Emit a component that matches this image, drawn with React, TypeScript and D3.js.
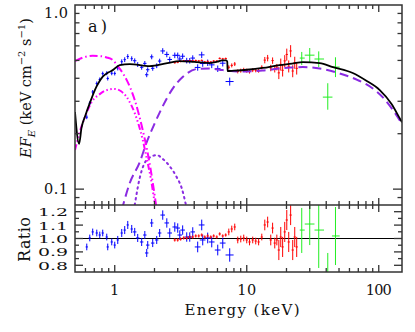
import React from "react";
import * as d3 from "d3";

// model components, E in keV, EF_E in keV cm^-2 s^-1
const totalE = [0.5, 0.537, 0.56, 0.6, 0.647, 0.727, 0.811, 0.9, 0.966, 1.09, 1.3, 1.84, 2.5, 3.11, 4.0, 5.24, 6.0, 6.5, 7.0, 7.12, 7.16, 8.0, 10, 13.2, 17.8, 22, 26.6, 35.7, 45, 63.5, 80, 101.8, 125, 144, 150];
const totalF = [0.262, 0.176, 0.215, 0.252, 0.293, 0.36, 0.408, 0.431, 0.443, 0.472, 0.478, 0.466, 0.484, 0.496, 0.491, 0.484, 0.492, 0.5, 0.5, 0.492, 0.438, 0.44, 0.445, 0.455, 0.472, 0.48, 0.49, 0.484, 0.46, 0.427, 0.389, 0.345, 0.29, 0.243, 0.231];

const soft1E = [0.5, 0.593, 0.681, 0.77, 0.87, 0.966, 1.054, 1.15, 1.233, 1.322, 1.417, 1.52, 1.63, 1.747, 1.874, 2.01, 2.08];
const soft1F = [0.496, 0.522, 0.53, 0.528, 0.519, 0.502, 0.466, 0.427, 0.391, 0.35, 0.305, 0.256, 0.209, 0.167, 0.127, 0.0916, 0.0769];

const soft2E = [0.5, 0.543, 0.603, 0.669, 0.77, 0.87, 1.0, 1.11, 1.233, 1.322, 1.417, 1.52, 1.63, 1.747, 1.874, 2.01, 2.08];
const soft2F = [0.163, 0.204, 0.252, 0.297, 0.328, 0.345, 0.35, 0.341, 0.316, 0.29, 0.259, 0.223, 0.185, 0.147, 0.115, 0.0839, 0.0723];

const plE = [1.13, 1.3, 1.546, 1.747, 2.01, 2.27, 2.7, 3.27, 4.17, 5.24, 6.58, 8.85, 13.2, 17.8, 21.2, 26.6, 35.7, 50.5, 69.3, 90.1, 107, 144, 150];
const plF = [0.0769, 0.108, 0.14, 0.18, 0.228, 0.275, 0.345, 0.406, 0.449, 0.452, 0.443, 0.435, 0.441, 0.452, 0.457, 0.46, 0.452, 0.425, 0.391, 0.352, 0.316, 0.237, 0.226];

const bumpE = [1.417, 1.546, 1.778, 2.08, 2.31, 2.61, 2.95, 3.22, 3.45];
const bumpF = [0.082, 0.115, 0.146, 0.153, 0.146, 0.133, 0.116, 0.101, 0.083];

// blue data
const blueE = [0.614, 0.647, 0.681, 0.731, 0.77, 0.811, 0.87, 0.885, 0.949, 1.0, 1.054, 1.13, 1.19, 1.255, 1.345, 1.417, 1.493, 1.6, 1.69, 1.747, 1.778, 1.906, 1.94, 2.08, 2.19, 2.31, 2.48, 2.61, 2.85, 3.0, 3.11, 3.27, 3.51, 3.7, 3.9, 4.25, 4.56, 4.64, 5.06, 5.43, 6.03, 6.58, 7.43];
const blueF = [0.246, 0.293, 0.337, 0.375, 0.394, 0.424, 0.426, 0.399, 0.426, 0.425, 0.455, 0.492, 0.505, 0.525, 0.511, 0.498, 0.475, 0.459, 0.482, 0.418, 0.445, 0.523, 0.453, 0.468, 0.496, 0.563, 0.539, 0.506, 0.533, 0.533, 0.509, 0.527, 0.499, 0.498, 0.515, 0.458, 0.536, 0.481, 0.486, 0.473, 0.451, 0.483, 0.384];
const blueRatio = [0.937, 1.004, 1.049, 1.041, 1.026, 1.041, 1.011, 0.937, 0.974, 0.951, 0.989, 1.041, 1.063, 1.101, 1.071, 1.049, 1.004, 0.974, 1.026, 0.892, 0.951, 1.116, 0.966, 0.989, 1.041, 1.175, 1.116, 1.041, 1.086, 1.078, 1.026, 1.063, 1.011, 1.011, 1.049, 0.937, 1.101, 0.989, 1.004, 0.974, 0.914, 0.966, 0.877];
const blueErr = [0.025, 0.025, 0.025, 0.025, 0.025, 0.025, 0.025, 0.025, 0.025, 0.025, 0.03, 0.03, 0.03, 0.03, 0.03, 0.03, 0.03, 0.03, 0.03, 0.03, 0.03, 0.03, 0.03, 0.03, 0.03, 0.035, 0.035, 0.035, 0.035, 0.035, 0.035, 0.035, 0.035, 0.035, 0.035, 0.04, 0.04, 0.04, 0.04, 0.04, 0.04, 0.04, 0.05];
const blueBin = [0.02, 0.02, 0.02, 0.02, 0.02, 0.02, 0.02, 0.02, 0.02, 0.02, 0.02, 0.02, 0.02, 0.02, 0.02, 0.03, 0.03, 0.03, 0.03, 0.03, 0.03, 0.03, 0.03, 0.03, 0.03, 0.04, 0.04, 0.04, 0.04, 0.04, 0.04, 0.04, 0.04, 0.04, 0.04, 0.05, 0.05, 0.05, 0.05, 0.05, 0.05, 0.05, 0.07];

// red data
const redE = [2.85, 3.0, 3.16, 3.33, 3.51, 3.7, 3.9, 4.11, 4.33, 4.56, 4.81, 5.06, 5.34, 5.62, 5.93, 6.24, 6.58, 6.93, 7.31, 7.7, 8.11, 8.55, 9.01, 9.49, 10.0, 10.5, 11.1, 11.7, 12.3, 13.0, 13.7, 14.4, 15.2, 15.7, 16.3, 16.9, 17.5, 18.1, 18.7, 19.4, 20.1, 20.8, 21.5, 22.3, 23.1, 23.9];
const redF = [0.486, 0.489, 0.494, 0.497, 0.495, 0.498, 0.497, 0.499, 0.497, 0.5, 0.491, 0.494, 0.49, 0.496, 0.496, 0.513, 0.51, 0.512, 0.459, 0.47, 0.478, 0.436, 0.44, 0.445, 0.44, 0.435, 0.443, 0.442, 0.44, 0.459, 0.502, 0.515, 0.455, 0.499, 0.448, 0.46, 0.428, 0.476, 0.442, 0.497, 0.539, 0.465, 0.563, 0.438, 0.487, 0.453];
const redRatio = [0.989, 0.989, 0.996, 1.004, 1.004, 1.011, 1.011, 1.019, 1.019, 1.026, 1.011, 1.019, 1.011, 1.019, 1.011, 1.034, 1.019, 1.026, 1.049, 1.071, 1.086, 0.989, 0.996, 1.004, 0.989, 0.974, 0.989, 0.981, 0.974, 1.011, 1.101, 1.123, 0.989, 1.078, 0.966, 0.989, 0.914, 1.011, 0.937, 1.049, 1.138, 0.974, 1.175, 0.914, 1.011, 0.937];
const redErr = [0.012, 0.012, 0.012, 0.012, 0.012, 0.012, 0.012, 0.012, 0.012, 0.012, 0.012, 0.012, 0.012, 0.012, 0.012, 0.012, 0.012, 0.012, 0.025, 0.025, 0.025, 0.025, 0.025, 0.025, 0.025, 0.025, 0.025, 0.025, 0.025, 0.025, 0.04, 0.04, 0.04, 0.04, 0.04, 0.04, 0.075, 0.075, 0.075, 0.075, 0.075, 0.075, 0.075, 0.075, 0.075, 0.075];
const redBin = 0.02;

// green data
const greenE = [26.1, 30.0, 35.1, 41.1, 47.0];
const greenELo = [25.2, 27.5, 32.6, 37.7, 44.2];
const greenEHi = [27.5, 32.6, 38.5, 44.6, 50.6];
const greenF = [0.515, 0.534, 0.509, 0.316, 0.46];
const greenFLo = [0.472, 0.49, 0.46, 0.27, 0.406];
const greenFHi = [0.556, 0.584, 0.56, 0.376, 0.52];
const greenRatio = [1.063, 1.108, 1.063, 0.72, 1.019];
const greenRatioLo = [0.892, 0.951, 0.78, 0.55, 0.802];
const greenRatioHi = [1.228, 1.25, 1.25, 0.892, 1.235];

const xLabels = [1, 10, 100];
const fLabels = [0.1, 1.0];
const ratioLabels = [0.8, 0.9, 1.0, 1.1, 1.2];

const BLUE = "#0000ff";
const RED = "#ff0000";
const GREEN = "#22ee22";
const MAGENTA = "#ff00ff";
const PURPLE = "#8a2be2";
const INK = "#333";
const FONT = "DejaVu Serif";

export default function App() {
  const L = 75, R = 402, T = 5, M = 205, B = 272;
  const x = d3.scaleLog().domain([0.5, 150]).range([L, R]);
  const yF = d3.scaleLog().domain([0.082, 1]).range([M, T]);
  const yR = d3.scaleLinear().domain([0.75, 1.25]).range([B, M]);

  const curve = (E: number[], F: number[]) =>
    d3
      .line<number>()
      .x((i) => x(E[i]))
      .y((i) => yF(F[i]))
      .curve(d3.curveMonotoneX)(d3.range(E.length)) || "";

  const isMajor = (v: number) => Math.abs(Math.log10(v) - Math.round(Math.log10(v))) < 1e-6;
  const xTicks = x.ticks().filter((v) => v > 0.501 && v < 149);
  const fTicks = yF.ticks().filter((v) => v > 0.083 && v < 0.999);
  const rTicks = d3.range(16, 25).map((k) => k * 0.05);

  const cross = (key: string, xa: number, xb: number, xc: number, yc: number, ya: number, yb: number, color: string) => (
    <g key={key} stroke={color} strokeWidth={1}>
      <line x1={xa} x2={xb} y1={yc} y2={yc} />
      <line x1={xc} x2={xc} y1={ya} y2={yb} />
    </g>
  );

  const topData: React.ReactNode[] = [];
  const ratData: React.ReactNode[] = [];
  blueE.forEach((e, i) => {
    const xa = x(e * (1 - blueBin[i])), xb = x(e * (1 + blueBin[i])), xc = x(e);
    topData.push(cross("bt" + i, xa, xb, xc, yF(blueF[i]), yF(blueF[i] * (1 - blueErr[i])), yF(blueF[i] * (1 + blueErr[i])), BLUE));
    ratData.push(cross("br" + i, xa, xb, xc, yR(blueRatio[i]), yR(blueRatio[i] - blueErr[i]), yR(blueRatio[i] + blueErr[i]), BLUE));
  });
  redE.forEach((e, i) => {
    const xa = x(e * (1 - redBin)), xb = x(e * (1 + redBin)), xc = x(e);
    topData.push(cross("rt" + i, xa, xb, xc, yF(redF[i]), yF(redF[i] * (1 - redErr[i])), yF(redF[i] * (1 + redErr[i])), RED));
    ratData.push(cross("rr" + i, xa, xb, xc, yR(redRatio[i]), yR(redRatio[i] - redErr[i]), yR(redRatio[i] + redErr[i]), RED));
  });
  greenE.forEach((e, i) => {
    const xa = x(greenELo[i]), xb = x(greenEHi[i]), xc = x(e);
    topData.push(cross("gt" + i, xa, xb, xc, yF(greenF[i]), yF(greenFLo[i]), yF(greenFHi[i]), GREEN));
    ratData.push(cross("gr" + i, xa, xb, xc, yR(greenRatio[i]), yR(greenRatioLo[i]), yR(greenRatioHi[i]), GREEN));
  });

  return (
    <svg width={415} height={332} style={{ position: "absolute", left: 0, top: 0, background: "#fff" }} fontFamily={FONT}>
      <defs>
        <clipPath id="clipTop">
          <rect x={L} y={T} width={R - L} height={M - T} />
        </clipPath>
        <clipPath id="clipRat">
          <rect x={L} y={M} width={R - L} height={B - M} />
        </clipPath>
      </defs>

      {/* top panel */}
      <g clipPath="url(#clipTop)" fill="none">
        {topData}
        <path d={curve(bumpE, bumpF)} stroke={PURPLE} strokeWidth={2} strokeDasharray="1.5,4" strokeLinecap="round" />
        <path d={curve(plE, plF)} stroke={PURPLE} strokeWidth={2} strokeDasharray="9,5" />
        <path d={curve(soft2E, soft2F)} stroke={MAGENTA} strokeWidth={2} strokeDasharray="6,2.5,1.5,2.5,1.5,2.5,1.5,2.5" />
        <path d={curve(soft1E, soft1F)} stroke={MAGENTA} strokeWidth={2} strokeDasharray="8,3,1.5,3" />
        <path d={curve(totalE, totalF)} stroke="#000" strokeWidth={1.8} />
      </g>

      {/* ratio panel */}
      <g clipPath="url(#clipRat)">
        <line x1={L} x2={R} y1={yR(1)} y2={yR(1)} stroke="#000" strokeWidth={1} />
        {ratData}
      </g>

      {/* frames */}
      <g fill="none" stroke={INK} strokeWidth={1.5}>
        <rect x={L} y={T} width={R - L} height={B - T} />
        <line x1={L} x2={R} y1={M} y2={M} />
      </g>

      {/* ticks */}
      <g stroke={INK} strokeWidth={1.3}>
        {xTicks.map((v) => {
          const len = isMajor(v) ? 7 : 4;
          const px = x(v);
          return (
            <g key={"xt" + v}>
              <line x1={px} x2={px} y1={T} y2={T + len} />
              <line x1={px} x2={px} y1={M - len} y2={M + len} />
              <line x1={px} x2={px} y1={B} y2={B - len} />
            </g>
          );
        })}
        {fTicks.map((v) => {
          const len = isMajor(v) ? 9 : 4.5;
          const py = yF(v);
          return (
            <g key={"ft" + v}>
              <line x1={L} x2={L + len} y1={py} y2={py} />
              <line x1={R} x2={R - len} y1={py} y2={py} />
            </g>
          );
        })}
        {rTicks.map((v, i) => {
          const len = i % 2 === 0 ? 8 : 4;
          const py = yR(v);
          return (
            <g key={"rt" + i}>
              <line x1={L} x2={L + len} y1={py} y2={py} />
              <line x1={R} x2={R - len} y1={py} y2={py} />
            </g>
          );
        })}
      </g>

      {/* tick labels */}
      <g fill="#111" fontSize={14.5}>
        {xLabels.map((v) => (
          <text key={"xl" + v} x={x(v)} y={295} textAnchor="middle" textLength={v === 1 ? 8 : v === 10 ? 19 : 26} lengthAdjust="spacing">
            {String(v)}
          </text>
        ))}
        {fLabels.map((v) => (
          <text key={"fl" + v} x={68} y={Math.max(yF(v), 12.5) + 5} textAnchor="end" textLength={24} lengthAdjust="spacing">
            {v.toFixed(1)}
          </text>
        ))}
      </g>
      <g fill="#111" fontSize={11.5}>
        {ratioLabels.map((v) => (
          <text key={"rl" + v} x={68} y={yR(v) + 4.5} textAnchor="end" textLength={30} lengthAdjust="spacingAndGlyphs">
            {v.toFixed(1)}
          </text>
        ))}
      </g>

      {/* axis titles */}
      <g fill="#111">
        <text x={242} y={315} textAnchor="middle" fontSize={15} textLength={115} lengthAdjust="spacing">
          Energy (keV)
        </text>
        <text transform="translate(30,239.5) rotate(-90)" textAnchor="middle" fontSize={16} textLength={45} lengthAdjust="spacing">
          Ratio
        </text>
        <text transform="translate(31,88) rotate(-90)" textAnchor="middle" fontSize={14.5}>
          <tspan fontStyle="italic">EF</tspan>
          <tspan fontStyle="italic" fontSize={10} dy={4}>E</tspan>
          <tspan dy={-4}> (keV cm</tspan>
          <tspan fontSize={10} dy={-6}>−2</tspan>
          <tspan dy={6}> s</tspan>
          <tspan fontSize={10} dy={-6}>−1</tspan>
          <tspan dy={6}>)</tspan>
        </text>
        <text x={88} y={32} fontSize={16} textLength={19} lengthAdjust="spacing">
          a)
        </text>
      </g>
    </svg>
  );
}
